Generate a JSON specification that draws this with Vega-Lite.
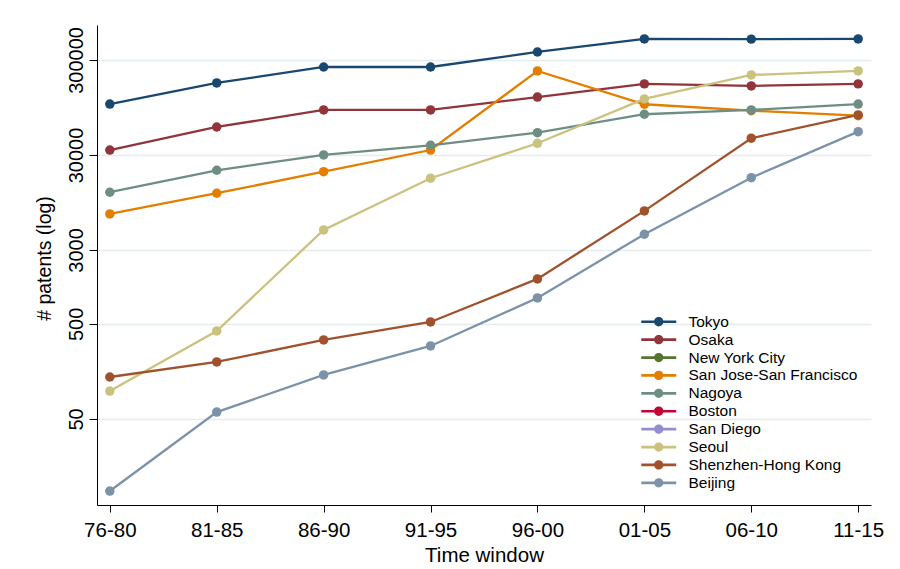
{
  "$schema": "https://vega.github.io/schema/vega-lite/v6.json",
  "width": 774,
  "height": 480,
  "autosize": {"type": "none"},
  "padding": {"left": 97, "top": 25, "right": 29, "bottom": 64},
  "background": "white",
  "config": {
    "view": {"stroke": null},
    "font": "Liberation Sans"
  },
  "data": {
    "values": [
      {"city": "Tokyo", "window": "76-80", "patents": 103000},
      {"city": "Tokyo", "window": "81-85", "patents": 172000},
      {"city": "Tokyo", "window": "86-90", "patents": 253000},
      {"city": "Tokyo", "window": "91-95", "patents": 253000},
      {"city": "Tokyo", "window": "96-00", "patents": 364000},
      {"city": "Tokyo", "window": "01-05", "patents": 499000},
      {"city": "Tokyo", "window": "06-10", "patents": 497000},
      {"city": "Tokyo", "window": "11-15", "patents": 499000},
      {"city": "Osaka", "window": "76-80", "patents": 33800},
      {"city": "Osaka", "window": "81-85", "patents": 59100},
      {"city": "Osaka", "window": "86-90", "patents": 89300},
      {"city": "Osaka", "window": "91-95", "patents": 89300},
      {"city": "Osaka", "window": "96-00", "patents": 122000},
      {"city": "Osaka", "window": "01-05", "patents": 168000},
      {"city": "Osaka", "window": "06-10", "patents": 160000},
      {"city": "Osaka", "window": "11-15", "patents": 168000},
      {"city": "San Jose-San Francisco", "window": "76-80", "patents": 7180},
      {"city": "San Jose-San Francisco", "window": "81-85", "patents": 11860},
      {"city": "San Jose-San Francisco", "window": "86-90", "patents": 20000},
      {"city": "San Jose-San Francisco", "window": "91-95", "patents": 33800},
      {"city": "San Jose-San Francisco", "window": "96-00", "patents": 230000},
      {"city": "San Jose-San Francisco", "window": "01-05", "patents": 102500},
      {"city": "San Jose-San Francisco", "window": "06-10", "patents": 87700},
      {"city": "San Jose-San Francisco", "window": "11-15", "patents": 77800},
      {"city": "Nagoya", "window": "76-80", "patents": 12150},
      {"city": "Nagoya", "window": "81-85", "patents": 20700},
      {"city": "Nagoya", "window": "86-90", "patents": 30000},
      {"city": "Nagoya", "window": "91-95", "patents": 37900},
      {"city": "Nagoya", "window": "96-00", "patents": 51500},
      {"city": "Nagoya", "window": "01-05", "patents": 80500},
      {"city": "Nagoya", "window": "06-10", "patents": 89300},
      {"city": "Nagoya", "window": "11-15", "patents": 103000},
      {"city": "Seoul", "window": "76-80", "patents": 98},
      {"city": "Seoul", "window": "81-85", "patents": 421},
      {"city": "Seoul", "window": "86-90", "patents": 4870},
      {"city": "Seoul", "window": "91-95", "patents": 17070},
      {"city": "Seoul", "window": "96-00", "patents": 39800},
      {"city": "Seoul", "window": "01-05", "patents": 116600},
      {"city": "Seoul", "window": "06-10", "patents": 208500},
      {"city": "Seoul", "window": "11-15", "patents": 230000},
      {"city": "Shenzhen-Hong Kong", "window": "76-80", "patents": 138},
      {"city": "Shenzhen-Hong Kong", "window": "81-85", "patents": 199},
      {"city": "Shenzhen-Hong Kong", "window": "86-90", "patents": 339},
      {"city": "Shenzhen-Hong Kong", "window": "91-95", "patents": 524},
      {"city": "Shenzhen-Hong Kong", "window": "96-00", "patents": 1486},
      {"city": "Shenzhen-Hong Kong", "window": "01-05", "patents": 7730},
      {"city": "Shenzhen-Hong Kong", "window": "06-10", "patents": 45000},
      {"city": "Shenzhen-Hong Kong", "window": "11-15", "patents": 79100},
      {"city": "Beijing", "window": "76-80", "patents": 8.7},
      {"city": "Beijing", "window": "81-85", "patents": 59},
      {"city": "Beijing", "window": "86-90", "patents": 145},
      {"city": "Beijing", "window": "91-95", "patents": 293},
      {"city": "Beijing", "window": "96-00", "patents": 938},
      {"city": "Beijing", "window": "01-05", "patents": 4390},
      {"city": "Beijing", "window": "06-10", "patents": 17300},
      {"city": "Beijing", "window": "11-15", "patents": 52800}
    ]
  },
  "mark": {"type": "line", "strokeWidth": 2.3, "point": {"filled": true, "size": 90, "opacity": 1}},
  "encoding": {
    "x": {
      "field": "window",
      "type": "ordinal",
      "sort": ["76-80", "81-85", "86-90", "91-95", "96-00", "01-05", "06-10", "11-15"],
      "scale": {"type": "point", "padding": 0.12},
      "axis": {
        "title": "Time window",
        "titleFontSize": 20.5,
        "titleFontWeight": "normal",
        "titleColor": "#000000",
        "titlePadding": 5,
        "labelAngle": 0,
        "labelFontSize": 20.5,
        "labelColor": "#000000",
        "labelPadding": 8,
        "domainColor": "#000000",
        "tickColor": "#000000",
        "tickSize": 7,
        "grid": false
      }
    },
    "y": {
      "field": "patents",
      "type": "quantitative",
      "scale": {"type": "log", "domain": [6.2, 700000], "nice": false},
      "axis": {
        "title": "# patents (log)",
        "titleFontSize": 19.5,
        "titleFontWeight": "normal",
        "titleColor": "#000000",
        "titlePadding": 12,
        "titleY": 233,
        "values": [50, 500, 3000, 30000, 300000],
        "format": "d",
        "labelAngle": -90,
        "labelAlign": "center",
        "labelBaseline": "bottom",
        "labelFontSize": 20,
        "labelColor": "#000000",
        "labelPadding": 3,
        "domainColor": "#000000",
        "tickColor": "#000000",
        "tickSize": 8,
        "grid": true,
        "gridColor": "#e4ecee",
        "gridWidth": 1.5
      }
    },
    "color": {
      "field": "city",
      "type": "nominal",
      "scale": {
        "domain": ["Tokyo", "Osaka", "New York City", "San Jose-San Francisco", "Nagoya", "Boston", "San Diego", "Seoul", "Shenzhen-Hong Kong", "Beijing"],
        "range": ["#1a476f", "#90353b", "#55752f", "#e37e00", "#6e8e84", "#c10534", "#938dd2", "#cac27e", "#a0522d", "#7b92a8"]
      },
      "legend": {
        "title": null,
        "orient": "none",
        "legendX": 554,
        "legendY": 289,
        "padding": 0,
        "labelFontSize": 15.5,
        "labelLimit": 400,
        "labelColor": "#000000",
        "labelOffset": 22,
        "rowPadding": 0.9,
        "symbolType": "M-2.33,-0.18L2.33,-0.18L2.33,0.18L-2.33,0.18Z M0.62,0A0.62,0.62 0 1,1 -0.62,0A0.62,0.62 0 1,1 0.62,0Z",
        "symbolSize": 225,
        "symbolStrokeWidth": 0,
        "encode": {
          "symbols": {"update": {"fill": {"scale": "color", "field": "value"}, "strokeWidth": {"value": 0}, "opacity": {"value": 1}}}
        }
      }
    }
  }
}
